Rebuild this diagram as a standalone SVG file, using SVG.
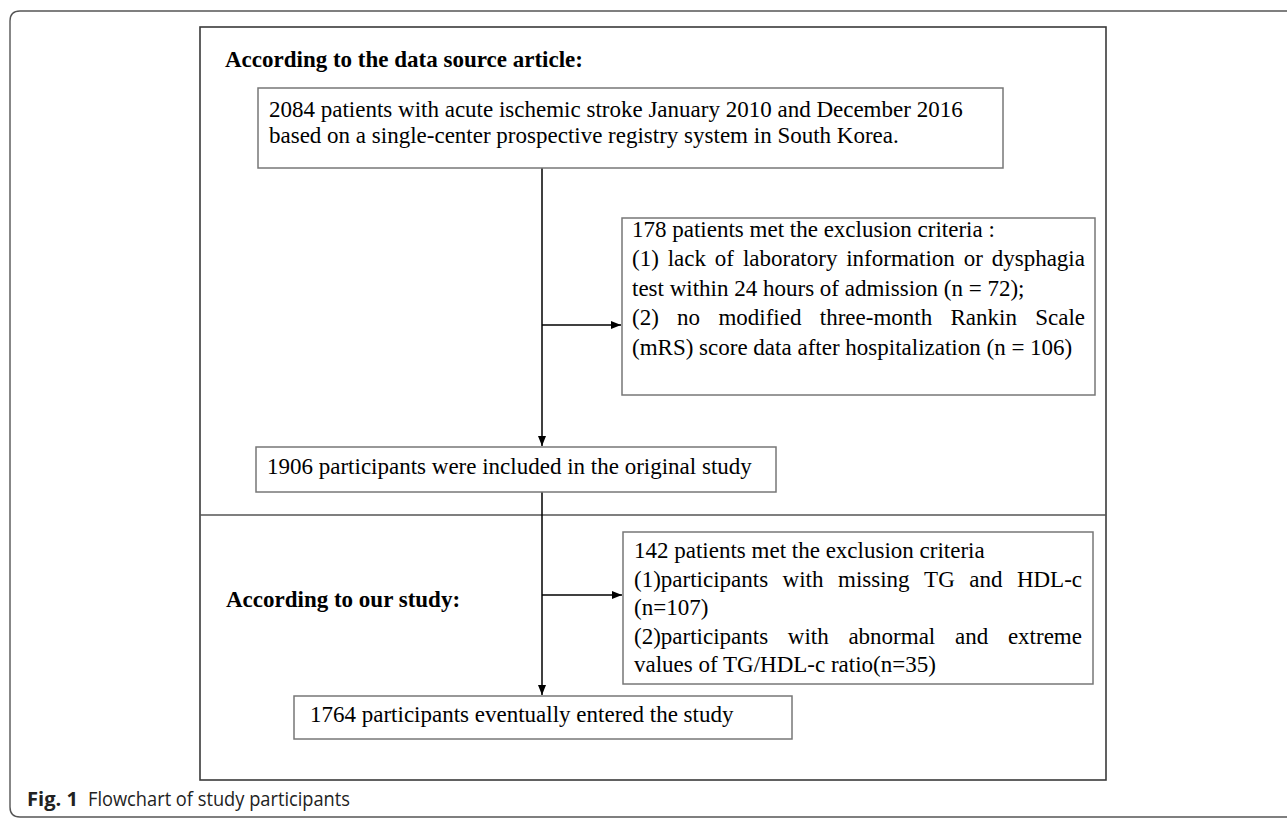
<svg xmlns="http://www.w3.org/2000/svg" width="1287" height="820" viewBox="0 0 1287 820">
<style>
.t{font-family:"Liberation Serif","Times New Roman",serif;font-size:23px;fill:#000}
.b{font-weight:bold}
.box{fill:#fff;stroke:#777;stroke-width:1.5}
.frame{fill:none;stroke:#3a3a3a;stroke-width:1.6}
.conn{stroke:#000;stroke-width:1.5;fill:none}
.cap{font-family:"Open Sans","Liberation Sans",sans-serif;font-size:20px;fill:#222}
</style>
<defs>
<marker id="ah" markerWidth="10" markerHeight="8" refX="10" refY="4" orient="auto" markerUnits="userSpaceOnUse">
<path d="M0,0 L10,4 L0,8 z" fill="#000"/>
</marker>
</defs>
<rect width="1287" height="820" fill="#fff"/>
<path d="M1300,11 H20 Q10,11 10,21 V807 Q10,817 20,817 H1300" fill="none" stroke="#555" stroke-width="1.4"/>
<rect class="frame" x="200" y="27" width="906" height="753"/>
<line x1="200" y1="515" x2="1106" y2="515" stroke="#555" stroke-width="1.4"/>
<text class="t b" x="225" y="67">According to the data source article:</text>
<text class="t b" x="226" y="607">According to our study:</text>

<g id="connectors">
<line class="conn" x1="542" y1="168" x2="542" y2="446" marker-end="url(#ah)"/>
<line class="conn" x1="542" y1="325" x2="621" y2="325" marker-end="url(#ah)"/>
<line class="conn" x1="542" y1="492" x2="542" y2="695" marker-end="url(#ah)"/>
<line class="conn" x1="542" y1="595" x2="622" y2="595" marker-end="url(#ah)"/>
</g>

<g id="n1">
<rect class="box" x="258" y="88" width="745" height="80"/>
<text class="t" x="269" y="117">2084 patients with acute ischemic stroke January 2010 and December 2016</text>
<text class="t" x="269" y="143">based on a single-center prospective registry system in South Korea.</text>
</g>

<g id="n2">
<rect class="box" x="622" y="218" width="473" height="177"/>
<text class="t" x="632" y="237">178 patients met the exclusion criteria :</text>
<text class="t" y="266"><tspan x="632">(1)</tspan><tspan x="667.7">lack</tspan><tspan x="714.8">of</tspan><tspan x="742.9">laboratory</tspan><tspan x="846.2">information</tspan><tspan x="963.7">or</tspan><tspan x="991.7">dysphagia</tspan></text>
<text class="t" x="632" y="296">test within 24 hours of admission (n = 72);</text>
<text class="t" y="325"><tspan x="632">(2)</tspan><tspan x="677.1">no</tspan><tspan x="718.4">modified</tspan><tspan x="819.8">three-month</tspan><tspan x="950.5">Rankin</tspan><tspan x="1035.2">Scale</tspan></text>
<text class="t" x="632" y="355">(mRS) score data after hospitalization (n = 106)</text>
</g>

<g id="n3">
<rect class="box" x="256" y="447" width="520" height="45"/>
<text class="t" x="267" y="474">1906 participants were included in the original study</text>
</g>

<g id="n4">
<rect class="box" x="623" y="532" width="470" height="152"/>
<text class="t" x="634" y="558">142 patients met the exclusion criteria</text>
<text class="t" y="587"><tspan x="634">(1)participants</tspan><tspan x="782.6">with</tspan><tspan x="838">missing</tspan><tspan x="924.1">TG</tspan><tspan x="969.3">and</tspan><tspan x="1016.9">HDL-c</tspan></text>
<text class="t" x="634" y="615">(n=107)</text>
<text class="t" y="644"><tspan x="634">(2)participants</tspan><tspan x="787.8">with</tspan><tspan x="848.4">abnormal</tspan><tspan x="955">and</tspan><tspan x="1007.9">extreme</tspan></text>
<text class="t" x="634" y="672">values of TG/HDL-c ratio(n=35)</text>
</g>

<g id="n5">
<rect class="box" x="294" y="696" width="498" height="43"/>
<text class="t" x="310" y="722">1764 participants eventually entered the study</text>
</g>

<g id="caption">
<text class="cap" x="27" y="806" font-weight="bold" textLength="51" lengthAdjust="spacingAndGlyphs">Fig. 1</text>
<text class="cap" x="88" y="806" textLength="262" lengthAdjust="spacingAndGlyphs">Flowchart of study participants</text>
</g>
</svg>
